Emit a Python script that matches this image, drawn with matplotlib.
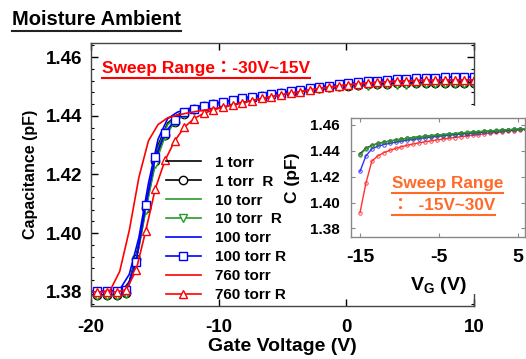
import matplotlib
matplotlib.use('Agg')
import matplotlib.pyplot as plt
import numpy as np
from matplotlib.ticker import MultipleLocator, FixedLocator, FormatStrFormatter
from matplotlib.lines import Line2D
from matplotlib.patches import Rectangle

plt.rcParams['font.family'] = ['Liberation Sans', 'Noto Sans CJK TC', 'DejaVu Sans']
plt.rcParams['font.weight'] = 'bold'
plt.rcParams['axes.unicode_minus'] = False
plt.rcParams['mathtext.fontset'] = 'custom'
plt.rcParams['mathtext.rm'] = 'Liberation Sans:bold'
plt.rcParams['mathtext.it'] = 'Liberation Sans:bold'
plt.rcParams['mathtext.bf'] = 'Liberation Sans:bold'

W, H = 526, 359

# main panel: gate voltage grids (forward lines / reverse sweeps with markers)
v_line = np.arange(-20, 10.01, 0.75)
v_rev = np.linspace(-19.5, 10, 40)

c_1 = [1.3790, 1.3790, 1.3790, 1.3793, 1.3835, 1.3960, 1.4140, 1.4300, 1.4375, 1.4403,
       1.4416, 1.4425, 1.4432, 1.4438, 1.4444, 1.4450, 1.4456, 1.4461, 1.4466, 1.4471,
       1.4475, 1.4479, 1.4484, 1.4488, 1.4492, 1.4495, 1.4498, 1.4501, 1.4504, 1.4506,
       1.4508, 1.4509, 1.4510, 1.4511, 1.4512, 1.4512, 1.4513, 1.4513, 1.4513, 1.4513, 1.4513]
c_10 = [1.3787, 1.3787, 1.3787, 1.3790, 1.3830, 1.3950, 1.4130, 1.4290, 1.4370, 1.4400,
        1.4413, 1.4422, 1.4430, 1.4436, 1.4442, 1.4448, 1.4454, 1.4459, 1.4464, 1.4469,
        1.4473, 1.4477, 1.4481, 1.4485, 1.4489, 1.4492, 1.4495, 1.4498, 1.4500, 1.4502,
        1.4503, 1.4504, 1.4505, 1.4506, 1.4506, 1.4507, 1.4507, 1.4507, 1.4507, 1.4507, 1.4507]
c_100 = [1.3803, 1.3803, 1.3803, 1.3808, 1.3860, 1.3985, 1.4170, 1.4320, 1.4390, 1.4412,
         1.4423, 1.4431, 1.4438, 1.4444, 1.4450, 1.4456, 1.4462, 1.4467, 1.4472, 1.4477,
         1.4481, 1.4486, 1.4491, 1.4496, 1.4500, 1.4504, 1.4508, 1.4512, 1.4515, 1.4518,
         1.4521, 1.4523, 1.4525, 1.4527, 1.4528, 1.4529, 1.4530, 1.4531, 1.4532, 1.4532, 1.4533]
c_760 = [1.3800, 1.3800, 1.3805, 1.3870, 1.4010, 1.4190, 1.4315, 1.4370, 1.4393, 1.4402,
         1.4409, 1.4415, 1.4420, 1.4425, 1.4431, 1.4439, 1.4446, 1.4453, 1.4460, 1.4466,
         1.4472, 1.4478, 1.4483, 1.4489, 1.4494, 1.4498, 1.4502, 1.4506, 1.4509, 1.4512,
         1.4514, 1.4516, 1.4518, 1.4519, 1.4520, 1.4521, 1.4521, 1.4522, 1.4522, 1.4522, 1.4522]

c_1r = [1.3790, 1.3790, 1.3790, 1.3795, 1.3912, 1.4085, 1.4245, 1.4335, 1.4380, 1.4407,
        1.4422, 1.4432, 1.4439, 1.4445, 1.4451, 1.4457, 1.4462, 1.4467, 1.4472, 1.4477,
        1.4481, 1.4486, 1.4490, 1.4494, 1.4497, 1.4500, 1.4503, 1.4505, 1.4507, 1.4509,
        1.4510, 1.4511, 1.4512, 1.4512, 1.4513, 1.4513, 1.4513, 1.4513, 1.4513, 1.4513]
c_10r = [1.3787, 1.3787, 1.3787, 1.3792, 1.3905, 1.4078, 1.4236, 1.4330, 1.4378, 1.4405,
         1.4420, 1.4430, 1.4437, 1.4443, 1.4449, 1.4455, 1.4460, 1.4465, 1.4470, 1.4474,
         1.4479, 1.4483, 1.4487, 1.4491, 1.4494, 1.4497, 1.4500, 1.4502, 1.4503, 1.4504,
         1.4505, 1.4506, 1.4506, 1.4507, 1.4507, 1.4507, 1.4507, 1.4507, 1.4507, 1.4507]
c_100r = [1.3803, 1.3803, 1.3803, 1.3806, 1.3901, 1.4095, 1.4258, 1.4342, 1.4384, 1.4412,
          1.4424, 1.4433, 1.4440, 1.4447, 1.4453, 1.4459, 1.4464, 1.4469, 1.4474, 1.4479,
          1.4484, 1.4489, 1.4494, 1.4499, 1.4503, 1.4507, 1.4511, 1.4514, 1.4517, 1.4520,
          1.4522, 1.4524, 1.4526, 1.4528, 1.4529, 1.4530, 1.4531, 1.4532, 1.4532, 1.4533]
c_760r = [1.3800, 1.3800, 1.3800, 1.3808, 1.3873, 1.4007, 1.4152, 1.4248, 1.4314, 1.4361,
          1.4390, 1.4408, 1.4420, 1.4429, 1.4437, 1.4445, 1.4452, 1.4459, 1.4465, 1.4471,
          1.4477, 1.4482, 1.4488, 1.4493, 1.4498, 1.4502, 1.4506, 1.4509, 1.4512, 1.4514,
          1.4516, 1.4518, 1.4519, 1.4520, 1.4521, 1.4521, 1.4522, 1.4522, 1.4522, 1.4522]

# inset: -15V~30V sweep
v_in = np.arange(-15, 6.01, 0.75)
c_in_black = [1.4378, 1.4420, 1.4443, 1.4457, 1.4467, 1.4476, 1.4484, 1.4491, 1.4497, 1.4503,
              1.4508, 1.4513, 1.4517, 1.4521, 1.4525, 1.4529, 1.4533, 1.4537, 1.4540, 1.4544,
              1.4547, 1.4550, 1.4553, 1.4556, 1.4559, 1.4562, 1.4565, 1.4568, 1.4570]
c_in_green = [1.4369, 1.4415, 1.4440, 1.4455, 1.4466, 1.4475, 1.4483, 1.4490, 1.4497, 1.4503,
              1.4508, 1.4513, 1.4518, 1.4522, 1.4526, 1.4530, 1.4534, 1.4538, 1.4542, 1.4545,
              1.4549, 1.4552, 1.4555, 1.4558, 1.4561, 1.4564, 1.4567, 1.4570, 1.4572]
c_in_blue = [1.4241, 1.4360, 1.4415, 1.4435, 1.4448, 1.4458, 1.4467, 1.4475, 1.4482, 1.4489,
             1.4495, 1.4501, 1.4506, 1.4511, 1.4516, 1.4520, 1.4525, 1.4529, 1.4533, 1.4537,
             1.4541, 1.4545, 1.4549, 1.4553, 1.4556, 1.4559, 1.4562, 1.4565, 1.4568]
c_in_red = [1.3921, 1.4150, 1.4320, 1.4360, 1.4385, 1.4403, 1.4418, 1.4431, 1.4443, 1.4453,
            1.4462, 1.4470, 1.4477, 1.4484, 1.4491, 1.4497, 1.4503, 1.4509, 1.4515, 1.4521,
            1.4526, 1.4532, 1.4537, 1.4542, 1.4547, 1.4552, 1.4557, 1.4562, 1.4566]

GREEN = '#2a9a2a'
ORANGE = '#ff6a2a'


def fx(px):
    return px / W


def fy(py):
    return 1 - py / H


fig = plt.figure(figsize=(W / 100, H / 100), dpi=100)

ax = fig.add_axes([fx(91), fy(306), fx(474) - fx(91), fy(43) - fy(306)])
ax.plot(v_line, c_1, color='k', lw=1.2, label='1 torr')
ax.plot(v_rev, c_1r, color='k', lw=1.2, marker='o', ms=6, mfc='white', mew=1, label='1 torr  R')
ax.plot(v_line, c_10, color=GREEN, lw=1.2, label='10 torr')
ax.plot(v_rev, c_10r, color=GREEN, lw=1.2, marker='v', ms=6, mfc='white', mew=1, label='10 torr  R')
ax.plot(v_line, c_100, color='#0000ff', lw=1.2, label='100 torr')
ax.plot(v_rev, c_100r, color='#0000ff', lw=1.2, marker='s', ms=5.5, mfc='white', mew=1, label='100 torr R')
ax.plot(v_line, c_760, color='#ff0000', lw=1.2, label='760 torr')
ax.plot(v_rev, c_760r, color='#ff0000', lw=1.2, marker='^', ms=6, mfc='white', mew=1, label='760 torr R')

ax.set_xlim(-20, 10)
ax.set_ylim(1.3752, 1.4648)
ax.xaxis.set_major_locator(MultipleLocator(10))
ax.yaxis.set_major_locator(MultipleLocator(0.02))
ax.yaxis.set_minor_locator(MultipleLocator(0.004))
ax.yaxis.set_major_formatter(FormatStrFormatter('%.2f'))
ax.tick_params(which='both', direction='in', top=True, right=True)
ax.tick_params(which='major', length=5, width=1)
ax.tick_params(which='minor', length=2.5, width=0.8)
ax.tick_params(axis='y', labelsize=13.5, pad=6)
ax.tick_params(axis='x', labelsize=13.5, pad=9)
for s in ax.spines.values():
    s.set_color('#444444')
    s.set_linewidth(1)
ax.set_xlabel('Gate Voltage (V)', fontsize=14, fontweight='bold', labelpad=2)
ax.set_ylabel('Capacitance (pF)', fontsize=11.5, fontweight='bold', labelpad=6)

leg = ax.legend(loc='lower left', bbox_to_anchor=(0.195, 0.015), frameon=False, fontsize=11,
                handlelength=2.3, handletextpad=0.9, labelspacing=0.32, borderpad=0,
                borderaxespad=0)

# white box behind the inset
fig.patches.append(Rectangle((fx(290), fy(294)), fx(526) - fx(290), fy(106) - fy(294),
                             transform=fig.transFigure, facecolor='white', edgecolor='none',
                             zorder=3))

axi = fig.add_axes([fx(351), fy(237), fx(525) - fx(351), fy(118) - fy(237)], zorder=4)
axi.plot(v_in, c_in_red, color='#ff3030', lw=1, marker='o', ms=2.5, mfc='none', mew=0.6)
axi.plot(v_in, c_in_blue, color='#3030ff', lw=1, marker='o', ms=2.5, mfc='none', mew=0.6)
axi.plot(v_in, c_in_black, color='#333333', lw=1, marker='o', ms=2.5, mfc='none', mew=0.6)
axi.plot(v_in, c_in_green, color=GREEN, lw=1, marker='o', ms=2.5, mfc='none', mew=0.6)
axi.set_xlim(-16.14, 5.9)
axi.set_ylim(1.3733, 1.4654)
axi.xaxis.set_major_locator(FixedLocator([-15, -5, 5]))
axi.yaxis.set_major_locator(MultipleLocator(0.02))
axi.yaxis.set_major_formatter(FormatStrFormatter('%.2f'))
axi.tick_params(direction='in', top=True, right=True, length=3, width=0.8, color='#888888')
axi.tick_params(axis='y', labelsize=11, pad=8)
axi.tick_params(axis='x', labelsize=14, pad=9)
for s in axi.spines.values():
    s.set_color('#888888')
    s.set_linewidth(1)
axi.set_xlabel('V$_{\\rm G}$ (V)', fontsize=14, fontweight='bold', labelpad=6)
axi.set_ylabel('C (pF)', fontsize=12.5, fontweight='bold', labelpad=7)

# texts
title = fig.text(fx(12), fy(25), 'Moisture Ambient', fontsize=14.5, fontweight='bold',
                 ha='left', va='baseline')
sw1 = fig.text(fx(102), fy(73), 'Sweep Range：-30V~15V', fontsize=12.5, fontweight='bold',
               color='#ff0000', ha='left', va='baseline')
sw2 = fig.text(fx(392), fy(188), 'Sweep Range', fontsize=12.3, fontweight='bold',
               color=ORANGE, ha='left', va='baseline', zorder=5)
sw3 = fig.text(fx(392), fy(210), '：  -15V~30V', fontsize=12.3, fontweight='bold',
               color=ORANGE, ha='left', va='baseline', zorder=5)

fig.canvas.draw()
r = fig.canvas.get_renderer()
for t, col in [(title, '#222222'), (sw1, '#ff0000'), (sw2, ORANGE), (sw3, ORANGE)]:
    bb = t.get_window_extent(r)
    yy = bb.y0 - 1.5
    fig.add_artist(Line2D([bb.x0 / W, bb.x1 / W], [yy / H, yy / H], transform=fig.transFigure,
                          color=col, lw=1.5, zorder=6))

fig.savefig('out.png', dpi=100)
